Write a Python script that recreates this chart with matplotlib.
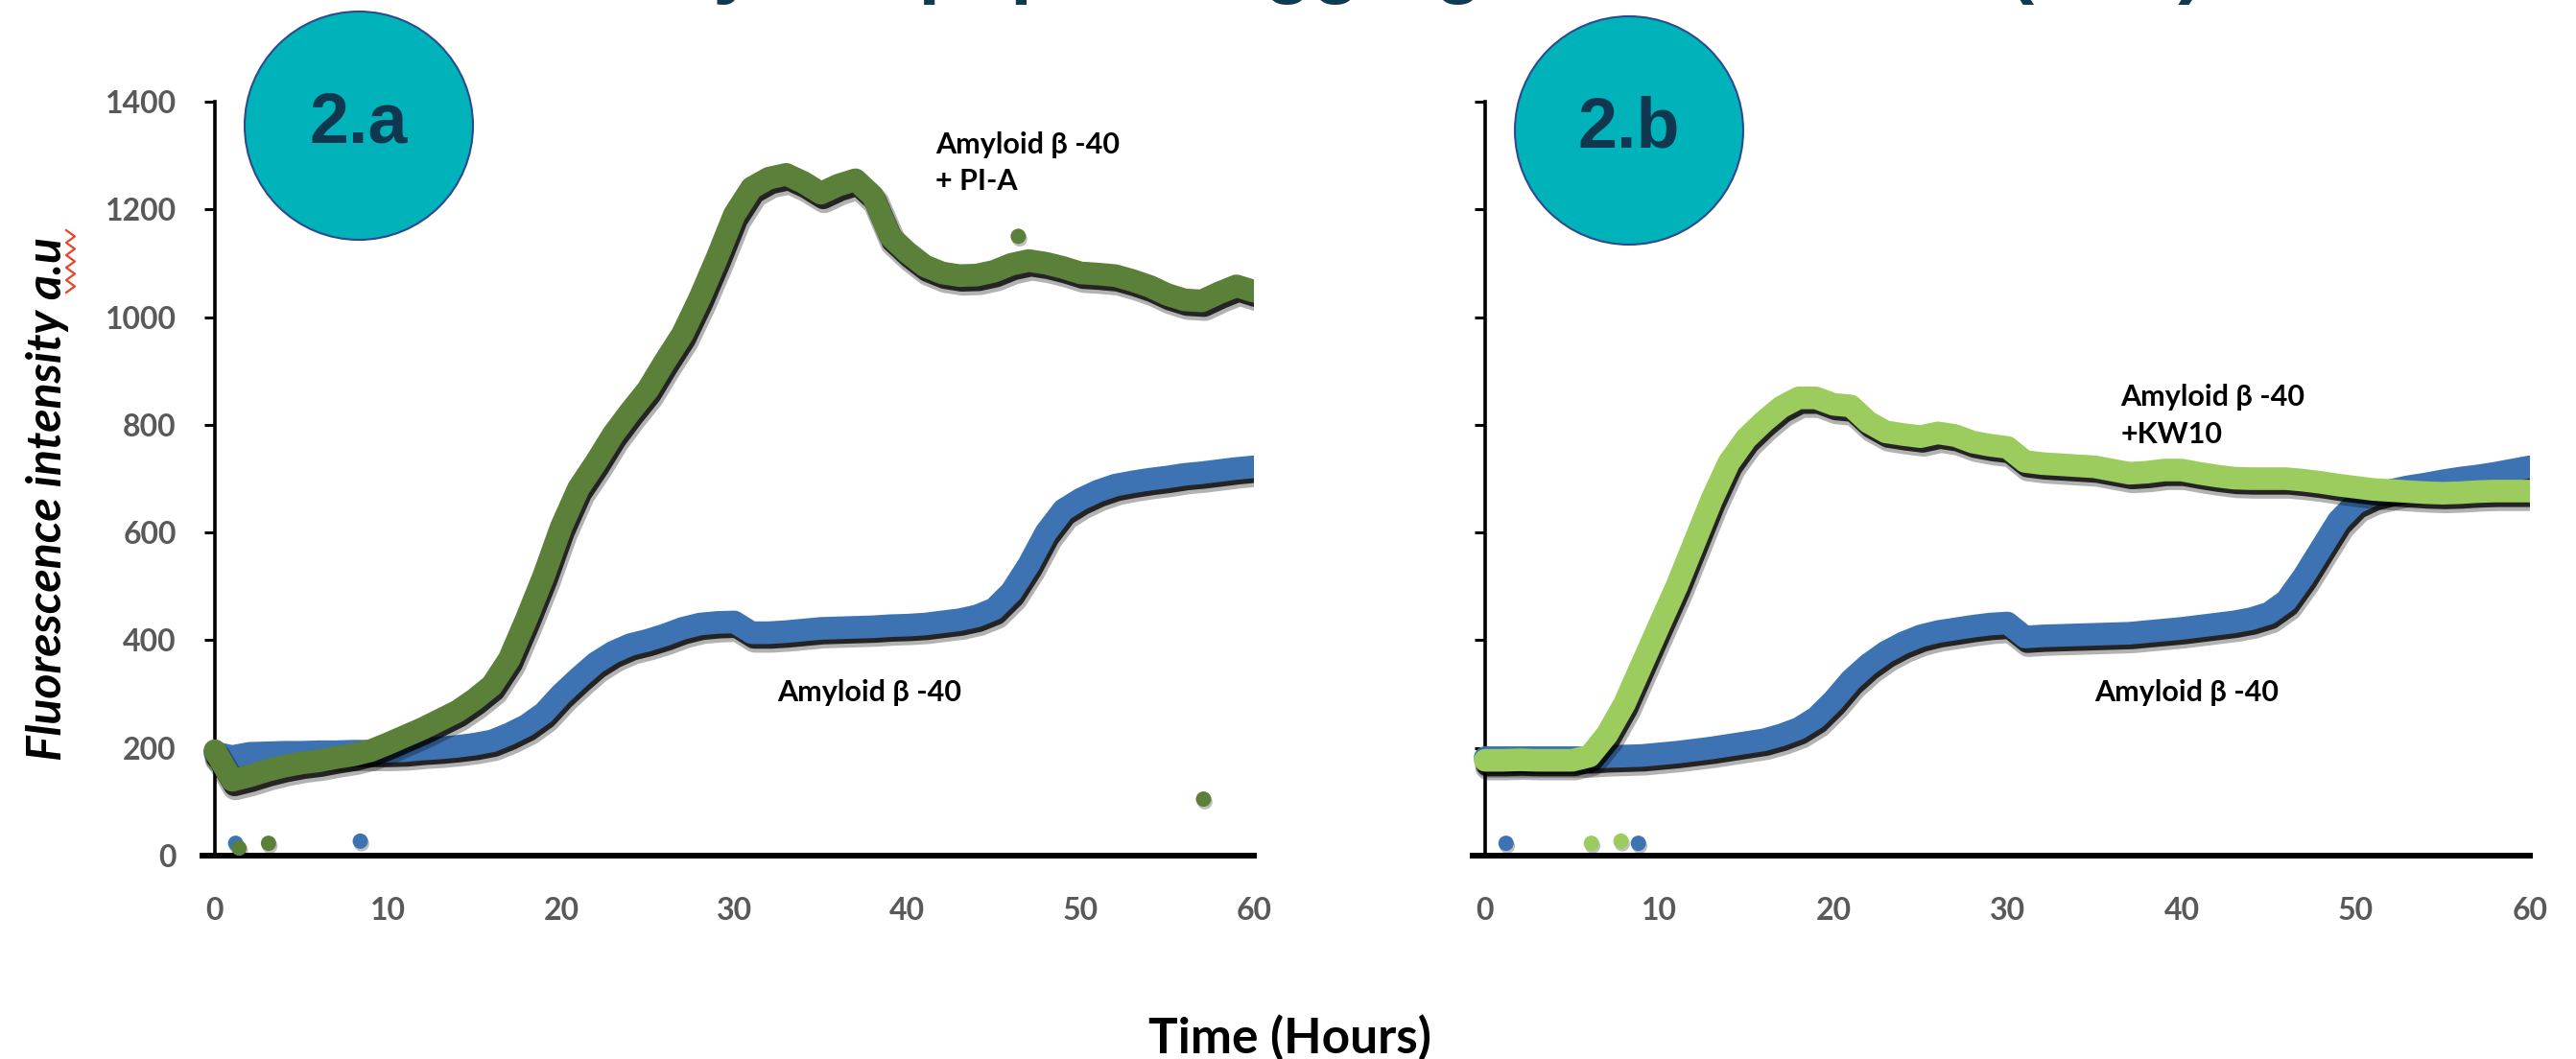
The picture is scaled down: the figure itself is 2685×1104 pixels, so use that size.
import matplotlib.pyplot as plt
import matplotlib.patheffects as pe
from matplotlib.patches import Circle
from matplotlib.lines import Line2D

# hourly readings, 0..60 h
hours = list(range(0, 61))

# panel 2.a
ab40_a = [191, 184, 190, 191, 192, 192, 193, 193, 194, 194,
          194, 195, 198, 200, 203, 207, 213, 226, 242, 265,
          300, 330, 358, 378, 392, 400, 410, 422, 430, 433,
          434, 414, 414, 416, 419, 422, 423, 424, 425, 427,
          428, 430, 434, 438, 445, 458, 490, 540, 600, 642,
          662, 677, 688, 694, 699, 703, 708, 711, 715, 719, 722]
ab40_pia = [195, 140, 148, 158, 166, 172, 176, 182, 187, 195,
            208, 222, 236, 252, 268, 290, 316, 365, 440, 520,
            610, 682, 730, 782, 825, 865, 918, 968, 1035, 1110,
            1190, 1240, 1258, 1265, 1250, 1230, 1245, 1255, 1225, 1150,
            1120, 1095, 1082, 1077, 1078, 1085, 1098, 1105, 1100, 1092,
            1082, 1080, 1077, 1068, 1057, 1042, 1032, 1030, 1045, 1058, 1048]

# panel 2.b
ab40_b = [182, 182, 182, 182, 182, 182, 182, 184, 185, 186,
          189, 192, 196, 200, 205, 210, 215, 224, 236, 256,
          288, 326, 355, 378, 395, 408, 416, 421, 426, 430,
          432, 406, 408, 409, 410, 411, 412, 413, 416, 419,
          422, 426, 430, 434, 440, 450, 473, 518, 570, 622,
          655, 670, 678, 685, 690, 696, 701, 705, 710, 716, 722]
ab40_kw10 = [177, 177, 178, 177, 177, 177, 185, 225, 282, 355,
             428, 500, 580, 660, 730, 775, 806, 833, 850, 850,
             838, 835, 805, 787, 782, 778, 785, 780, 768, 762,
             758, 732, 728, 726, 724, 722, 716, 710, 712, 716,
             716, 710, 705, 701, 700, 700, 700, 697, 693, 688,
             684, 680, 678, 676, 674, 673, 674, 676, 677, 677, 677]

# stray single readings
stray_a_t, stray_a_v = [1.2, 8.4], [23, 27]
stray_pia_t, stray_pia_v = [1.4, 3.1, 46.4, 57.1], [14, 23, 1150, 105]
stray_b_t, stray_b_v = [1.2, 8.8], [23, 23]
stray_kw10_t, stray_kw10_v = [6.1, 7.8], [23, 27]

x_ticks = [0, 10, 20, 30, 40, 50, 60]
y_ticks = [0, 200, 400, 600, 800, 1000, 1200, 1400]

BLUE = '#3D73B3'
DARK_GREEN = '#5B803A'
LIGHT_GREEN = '#9CCB5E'
TICK_GREY = '#595959'
FONT = ['Lato', 'DejaVu Sans']

plt.rcParams['font.family'] = FONT

LW = 17
shadow_fx = [pe.SimpleLineShadow(offset=(2.5, -5), shadow_color='black', alpha=0.3, linewidth=LW + 3),
             pe.SimpleLineShadow(offset=(1.8, -3.5), shadow_color='black', alpha=0.8),
             pe.Normal()]
dot_fx = [pe.SimplePatchShadow(offset=(1, -2), shadow_rgbFace='black', alpha=0.25), pe.Normal()]


def draw_series(ax, x, y, color):
    ax.plot(x, y, color=color, lw=LW, solid_capstyle='round',
            solid_joinstyle='round', path_effects=shadow_fx, zorder=3)


def draw_strays(ax, x, y, color):
    ax.plot(x, y, 'o', ms=11.5, color=color, mec='none', clip_on=False,
            path_effects=dot_fx, zorder=3)


def style_axes(ax, show_labels):
    ax.set_xlim(-0.7, 60)
    ax.set_ylim(0, 1400)
    ax.spines['left'].set_position(('data', 0))
    ax.spines['top'].set_visible(False)
    ax.spines['right'].set_visible(False)
    ax.spines['left'].set_linewidth(2.6)
    ax.spines['bottom'].set_linewidth(4.3)
    ax.set_xticks(x_ticks)
    ax.set_yticks(y_ticks)
    ax.tick_params(axis='x', length=0, pad=31, labelsize=23, labelcolor=TICK_GREY)
    ax.tick_params(axis='y', length=8, width=2.2, direction='out', pad=21,
                   labelsize=23, labelcolor=TICK_GREY, labelleft=show_labels)
    for lbl in ax.get_xticklabels() + ax.get_yticklabels():
        lbl.set_fontweight('bold')


fig = plt.figure(figsize=(26.85, 11.04), dpi=100)
ax1 = fig.add_axes([0.0787, 0.1920, 0.4080, 0.712])
ax2 = fig.add_axes([0.5718, 0.1920, 0.4103, 0.712])

draw_series(ax1, hours, ab40_a, BLUE)
draw_series(ax1, hours, ab40_pia, DARK_GREEN)
draw_strays(ax1, stray_a_t, stray_a_v, BLUE)
draw_strays(ax1, stray_pia_t, stray_pia_v, DARK_GREEN)
style_axes(ax1, True)

draw_series(ax2, hours, ab40_b, BLUE)
draw_series(ax2, hours, ab40_kw10, LIGHT_GREEN)
draw_strays(ax2, stray_b_t, stray_b_v, BLUE)
draw_strays(ax2, stray_kw10_t, stray_kw10_v, LIGHT_GREEN)
style_axes(ax2, False)

note = dict(fontsize=22, fontweight='bold', color='black', ha='left', linespacing=1.45)
ax1.text(41.6, 1345, 'Amyloid β -40\n+ PI-A', va='top', **note)
ax1.text(32.5, 303, 'Amyloid β -40', va='center', **note)
ax2.text(36.5, 876, 'Amyloid β -40\n+KW10', va='top', **note)
ax2.text(35.0, 303, 'Amyloid β -40', va='center', **note)

# panel badges
for cx, cy, label in [(3.74, 9.73, '2.a'), (16.98, 9.68, '2.b')]:
    fig.add_artist(Circle((cx, cy), 1.19, transform=fig.dpi_scale_trans,
                          facecolor='#00B2B9', edgecolor='#2E4A8F', lw=1.5, zorder=5))
    fig.text(cx / 26.85, (cy + 0.02) / 11.04, label, ha='center', va='center',
             fontsize=53, fontweight='bold', family='Liberation Sans',
             color='#0F3850', zorder=6)

# title sits mostly above the visible area
fig.text(611 / 2685, 1.011, 'Amyloid peptide aggregation kinetics (ThT)',
         ha='left', va='baseline', fontsize=59, fontweight='bold',
         family='Liberation Sans', color='#0E3A52')

fig.text(50 / 2685, 1 - 520 / 1104, 'Fluorescence intensity a.u', rotation=90,
         ha='center', va='center', fontsize=36, fontweight='bold',
         fontstyle='italic', color='black')
# spell-check squiggle under "a.u"
zig_y = [7.99 + i * 0.65 / 10 for i in range(11)]
zig_x = [0.69 if i % 2 == 0 else 0.78 for i in range(11)]
fig.add_artist(Line2D(zig_x, zig_y, transform=fig.dpi_scale_trans,
                      color='#E8452C', lw=1.6))

fig.text(1344 / 2685, 1 - 1082 / 1104, 'Time (Hours)', ha='center', va='center',
         fontsize=37, fontweight='bold', color='black')

fig.savefig('out.png', dpi=100)
